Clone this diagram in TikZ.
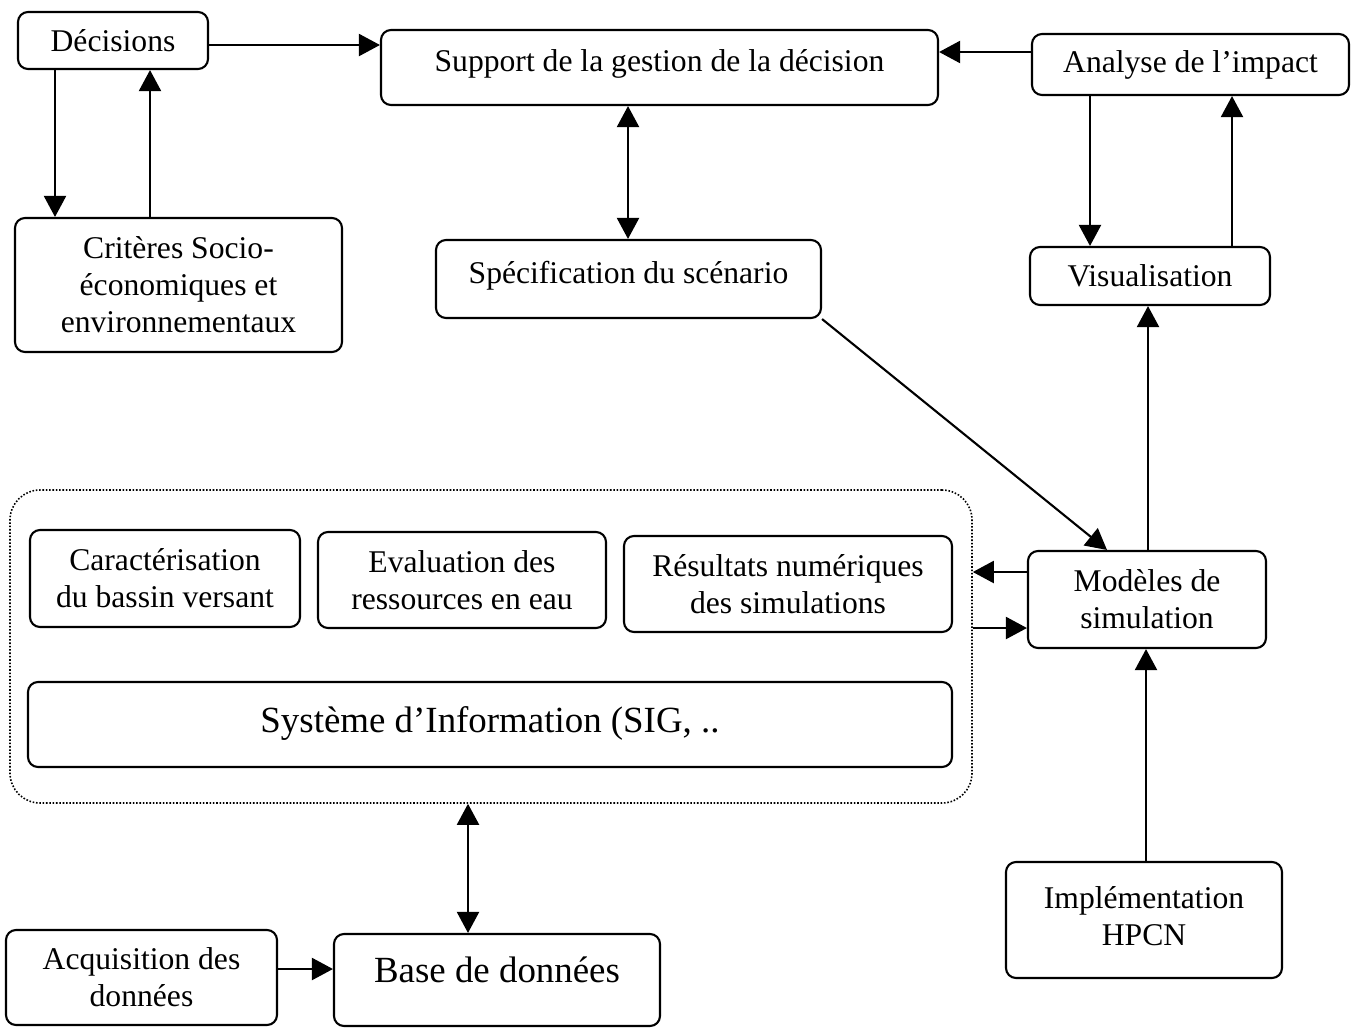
\documentclass[tikz,border=0pt]{standalone}
\usepackage{fontspec}
\setmainfont{Liberation Serif}
\usetikzlibrary{arrows.meta}

% box from corner (x1,y1) to (x2,y2), given in pixel-like units
\newcommand\mkbox[7][]{%
  \node[box,#1,minimum width={(#5-#3)*0.02cm},minimum height={(#6-#4)*0.02cm}]
    (#2) at ({(#3+#5)/2},{(#4+#6)/2}) {#7};}

\begin{document}
\begin{tikzpicture}[x=0.02cm,y=-0.02cm,
  box/.style={draw,line width=1.2pt,rounded corners=0.2cm,inner sep=0pt,
    align=center,font=\fontsize{18}{21}\selectfont},
  bigtext/.style={font=\fontsize{21}{25}\selectfont},
  group/.style={draw,densely dotted,line width=0.9pt,rounded corners=0.6cm,inner sep=0pt},
  arr/.style={line width=1.2pt,-{Triangle[length=0.42cm,width=0.44cm]}},
  darr/.style={line width=1.2pt,{Triangle[length=0.42cm,width=0.44cm]}-{Triangle[length=0.42cm,width=0.44cm]}}]
\useasboundingbox (0,0) rectangle (1358,1028);

% information system group (dotted frame)
\node[group,minimum width={962*0.02cm},minimum height={313*0.02cm}] (grp) at (491,646.5) {};

% boxes
\mkbox{dec}{18}{12}{208}{69}{Décisions}
\mkbox[text depth=8pt]{sup}{381}{30}{938}{105}{Support de la gestion de la décision}
\mkbox{ana}{1032}{34}{1349}{95}{Analyse de l’impact}
\mkbox{crit}{15}{218}{342}{352}{Critères Socio-\\économiques et\\environnementaux}
\mkbox[text depth=7pt]{spec}{436}{240}{821}{318}{Spécification du scénario}
\mkbox{vis}{1030}{247}{1270}{305}{Visualisation}
\mkbox{car}{30}{530}{300}{627}{Caractérisation\\du bassin versant}
\mkbox{eva}{318}{532}{606}{628}{Evaluation des\\ressources en eau}
\mkbox{res}{624}{536}{952}{632}{Résultats numériques\\des simulations}
\mkbox[bigtext,text depth=6pt]{sys}{28}{682}{952}{767}{Système d’Information (SIG, ..}
\mkbox{mod}{1028}{551}{1266}{648}{Modèles de\\simulation}
\mkbox[text depth=5pt]{hpc}{1006}{862}{1282}{978}{Implémentation\\HPCN}
\mkbox{acq}{6}{930}{277}{1025}{Acquisition des\\données}
\mkbox[bigtext,text depth=12pt]{bdd}{334}{934}{660}{1026}{Base de données}

% connectors
\draw[arr] (dec.east |- 0,45) -- (sup.west |- 0,45);
\draw[arr] (dec.south -| 55,0) -- (crit.north -| 55,0);
\draw[arr] (crit.north -| 150,0) -- (dec.south -| 150,0);
\draw[darr] (sup.south -| 628,0) -- (spec.north -| 628,0);
\draw[arr] (ana.west |- 0,52) -- (sup.east |- 0,52);
\draw[arr] (ana.south -| 1090,0) -- (vis.north -| 1090,0);
\draw[arr] (vis.north -| 1232,0) -- (ana.south -| 1232,0);
\draw[arr] (spec.south east) -- (mod.north -| 1107,0);
\draw[arr] (mod.north -| 1148,0) -- (vis.south -| 1148,0);
\draw[arr] (hpc.north -| 1146,0) -- (mod.south -| 1146,0);
\draw[arr] (mod.west |- 0,572) -- (grp.east |- 0,572);
\draw[arr] (grp.east |- 0,628) -- (mod.west |- 0,628);
\draw[darr] (grp.south -| 468,0) -- (bdd.north -| 468,0);
\draw[arr] (acq.east |- 0,969) -- (bdd.west |- 0,969);
\end{tikzpicture}
\end{document}
